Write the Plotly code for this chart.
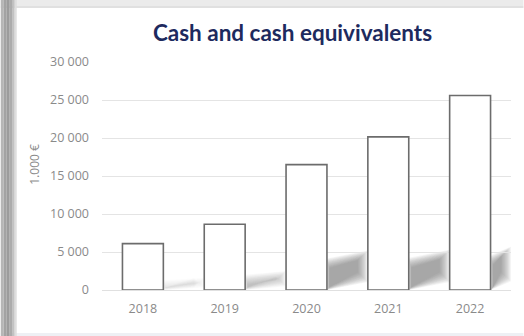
import plotly.graph_objects as go

# Cash and cash equivalents, in thousands of euros
years = ["2018", "2019", "2020", "2021", "2022"]
cash = [6100, 8650, 16500, 20150, 25600]
y_ticks = [0, 5000, 10000, 15000, 20000, 25000, 30000]

# Height (value units) reached by the soft floor shadow right of each bar
shadow_h = [1600, 2500, 5200, 5300, 5700]
shadow_strength = [0.35, 0.6, 1.0, 1.0, 1.0]

W, H = 524, 336
L, R, T, B = 101.5, 12.5, 62, 46
PW, PH = W - L - R, H - T - B


def px(x):
    return (x - L) / PW


def py(y):
    return (H - B - y) / PH


pos = list(range(len(years)))

fig = go.Figure(
    go.Bar(
        x=pos,
        y=cash,
        marker=dict(color="white", line=dict(color="#6c6c6c", width=1.6)),
        hoverinfo="skip",
    )
)

shapes = []

# Frame: light band on top and bottom, grey bevel on the left
shapes.append(dict(type="rect", xref="paper", yref="paper",
                   x0=px(0), x1=px(W), y0=py(0), y1=py(6),
                   fillcolor="#ebebeb", line_width=0, layer="below"))
shapes.append(dict(type="rect", xref="paper", yref="paper",
                   x0=px(0), x1=px(W), y0=py(6), y1=py(8),
                   fillcolor="#e0e0e0", line_width=0, layer="below"))
shapes.append(dict(type="rect", xref="paper", yref="paper",
                   x0=px(0), x1=px(W), y0=py(333), y1=py(H),
                   fillcolor="#eef0f4", line_width=0, layer="below"))
for x0, x1, c in [(0, 3, "#b6b6b6"), (3, 6, "#a3a3a3"), (6, 9, "#9c9c9c"),
                  (9, 12, "#acacac"), (12, 14, "#c2c2c2"), (14, 16, "#dedede")]:
    shapes.append(dict(type="rect", xref="paper", yref="paper",
                       x0=px(x0), x1=px(x1), y0=py(0), y1=py(H),
                       fillcolor=c, line_width=0, layer="below"))

# Blurred floor shadows: stacked translucent parallelograms rising to the right
N = 12
for i, (h, st) in enumerate(zip(shadow_h, shadow_strength)):
    xl = i + 0.25
    xr = min(i + 0.75, 4.5)
    for k in range(N):
        dx = 0.011 * k
        dy = 115 * k
        a, b = xl + dx * 0.25, xr - dx
        path = (f"M {a},{dy * 0.3} L {a},{0.8 * h - dy} "
                f"L {b},{h - dy} L {b},{0.2 * h + dy} Z")
        shapes.append(dict(type="path", xref="x", yref="y", path=path,
                           fillcolor="#6c6c6c", opacity=0.065 * st,
                           line_width=0, layer="below"))

fig.update_layout(
    width=W, height=H,
    margin=dict(l=L, r=R, t=T, b=B),
    paper_bgcolor="white",
    plot_bgcolor="rgba(0,0,0,0)",
    separators=", ",
    bargap=0.5,
    showlegend=False,
    shapes=shapes,
    title=dict(
        text="<b>Cash and cash equivivalents</b>",
        x=292.5 / W, xanchor="center",
        y=1 - 33 / H, yanchor="middle",
        font=dict(family="Lato", size=22.5, color="#1d2a5e"),
    ),
    xaxis=dict(
        range=[-0.5, 4.5],
        tickvals=pos, ticktext=years,
        showgrid=False, zeroline=False, showline=False,
        ticks="", ticklabelstandoff=9,
        tickfont=dict(family="Open Sans", size=12.5, color="#8a8a8a"),
    ),
    yaxis=dict(
        range=[0, 30000],
        tickvals=y_ticks, tickformat=",d",
        showgrid=True, gridcolor="#e4e4e4", gridwidth=1,
        zeroline=True, zerolinecolor="#e0e0e0", zerolinewidth=1,
        showline=False, ticks="", ticklabelstandoff=12,
        tickfont=dict(family="Open Sans", size=12.5, color="#8a8a8a"),
    ),
    annotations=[dict(
        text="1.000 €", textangle=-90,
        xref="paper", yref="paper",
        x=px(33), y=py(164), xanchor="center", yanchor="middle",
        showarrow=False,
        font=dict(family="Open Sans", size=12, color="#8a8a8a"),
    )],
)

# Page styling: no margins and no scrollbars around the figure
page_css = (
    "var s=document.createElement('style');"
    "s.textContent='html,body{margin:0!important;padding:0!important;"
    "overflow:hidden!important;scrollbar-width:none!important}"
    "::-webkit-scrollbar{display:none!important;width:0!important;height:0!important}';"
    "document.head.appendChild(s);window.scrollTo(0,0);"
)

fig.write_html("out.html", post_script=page_css)
